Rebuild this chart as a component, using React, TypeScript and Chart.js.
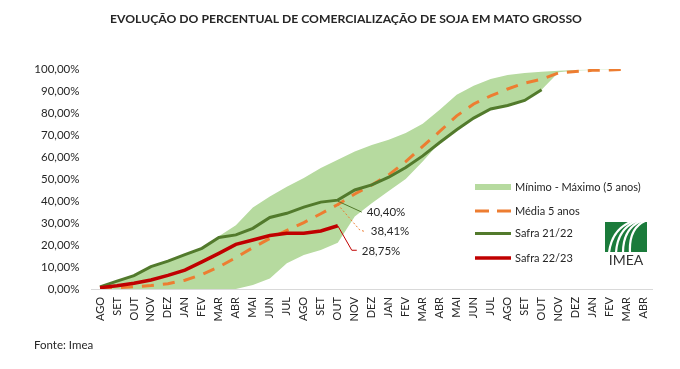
import React, { useEffect, useRef } from "react";
import { Chart, registerables } from "chart.js";

Chart.register(...registerables);

const categories = [
  "AGO", "SET", "OUT", "NOV", "DEZ", "JAN", "FEV", "MAR", "ABR", "MAI", "JUN", "JUL",
  "AGO", "SET", "OUT", "NOV", "DEZ", "JAN", "FEV", "MAR", "ABR", "MAI", "JUN", "JUL",
  "AGO", "SET", "OUT", "NOV", "DEZ", "JAN", "FEV", "MAR", "ABR",
];

const safra2223 = [0.6, 1.5, 2.6, 4.1, 6.2, 8.6, 12.3, 16.2, 20.3, 22.3, 24.3, 25.3, 25.3, 26.4, 28.75];

const safra2122 = [
  1.0, 3.6, 6.1, 10.2, 12.7, 15.6, 18.5, 23.4, 24.6, 27.6, 32.5, 34.4, 37.2, 39.5, 40.4,
  45.0, 47.3, 50.8, 55.2, 60.5, 66.6, 72.4, 77.7, 81.8, 83.4, 85.7, 90.6,
];

const media5 = [
  0.3, 0.6, 1.0, 1.6, 2.4, 4.0, 6.6, 10.0, 14.3, 18.8, 23.0, 26.6, 30.2, 34.2, 38.41,
  43.2, 47.3, 51.9, 57.9, 64.8, 71.6, 78.7, 84.1, 87.8, 90.9, 93.6, 95.4, 98.2, 98.9, 99.4, 99.6, 99.8,
];

const maximo5 = [
  1.0, 3.6, 6.1, 10.2, 12.7, 15.6, 18.5, 24.0, 29.0, 37.0, 42.0, 46.5, 50.5, 55.0, 58.7,
  62.5, 65.5, 67.8, 70.9, 75.1, 81.5, 88.3, 92.4, 95.4, 97.3, 98.2, 98.8, 99.2, 99.5, 99.7, 99.9,
];

const minimo5 = [
  0, 0, 0, 0, 0, 0, 0, 0, 0, 1.8, 4.8, 11.7, 15.5, 17.7, 21.0,
  33.0, 39.0, 44.5, 50.0, 58.0, 66.6, 72.4, 77.7, 81.8, 83.4, 85.7, 90.6, 98.5, 99.3, 99.6, 99.8,
];

const yTicks = [0, 10, 20, 30, 40, 50, 60, 70, 80, 90, 100];

const TITLE = "EVOLUÇÃO DO PERCENTUAL DE COMERCIALIZAÇÃO DE SOJA EM MATO GROSSO";
const SOURCE = "Fonte: Imea";
const legendItems = ["Mínimo - Máximo (5 anos)", "Média 5 anos", "Safra 21/22", "Safra 22/23"];

const C_BAND = "#b6da9f";
const C_GREEN = "#527a2c";
const C_RED = "#c00000";
const C_ORANGE = "#ed7d31";
const C_TEXT = "#262626";
const FONT = "Lato, 'Liberation Sans', sans-serif";

function pad(arr: number[]) {
  const out: (number | null)[] = arr.slice();
  while (out.length < categories.length) out.push(null);
  return out;
}

function fmt(v: number) {
  return v.toFixed(2).replace(".", ",") + "%";
}

const extrasPlugin = {
  id: "extras",
  afterDraw(chart: any) {
    const ctx = chart.ctx as CanvasRenderingContext2D;
    const xs = chart.scales.x;
    const ys = chart.scales.y;
    ctx.save();
    // title
    ctx.fillStyle = C_TEXT;
    ctx.font = `bold 12.2px ${FONT}`;
    ctx.textAlign = "center";
    ctx.textBaseline = "middle";
    ctx.fillText(TITLE, 346, 19);
    // source
    ctx.font = `11.5px ${FONT}`;
    ctx.textAlign = "left";
    ctx.fillText(SOURCE, 34, 345);

    // legend
    const lx0 = 475, lx1 = 511, tx = 515;
    ctx.fillStyle = C_BAND;
    ctx.fillRect(lx0, 184, lx1 - lx0, 6);
    ctx.lineWidth = 3;
    ctx.strokeStyle = C_ORANGE;
    ctx.setLineDash([14, 8]);
    ctx.beginPath(); ctx.moveTo(lx0, 211); ctx.lineTo(lx1, 211); ctx.stroke();
    ctx.setLineDash([]);
    ctx.strokeStyle = C_GREEN;
    ctx.beginPath(); ctx.moveTo(lx0, 233.5); ctx.lineTo(lx1, 233.5); ctx.stroke();
    ctx.strokeStyle = C_RED;
    ctx.lineWidth = 3.5;
    ctx.beginPath(); ctx.moveTo(lx0, 258); ctx.lineTo(lx1, 258); ctx.stroke();
    ctx.fillStyle = C_TEXT;
    ctx.font = `11px ${FONT}`;
    ctx.textBaseline = "middle";
    const ly = [187, 211, 233.5, 258];
    legendItems.forEach((t, i) => ctx.fillText(t, tx, ly[i]));

    // value labels at last Safra 22/23 point
    ctx.font = `11.5px ${FONT}`;
    const idx = safra2223.length - 1;
    const px = xs.getPixelForValue(idx);
    const gY = ys.getPixelForValue(safra2122[idx]);
    const oY = ys.getPixelForValue(media5[idx]);
    const rY = ys.getPixelForValue(safra2223[idx]);
    ctx.lineWidth = 1;
    // green
    ctx.strokeStyle = C_GREEN;
    ctx.beginPath(); ctx.moveTo(px, gY + 1); ctx.lineTo(px + 24, gY + 12); ctx.stroke();
    ctx.fillText(fmt(safra2122[idx]), px + 29, gY + 12);
    // orange
    ctx.strokeStyle = C_ORANGE;
    ctx.setLineDash([2, 2]);
    ctx.beginPath(); ctx.moveTo(px, oY); ctx.lineTo(px + 22, oY + 25.5); ctx.lineTo(px + 27, oY + 27); ctx.stroke();
    ctx.setLineDash([]);
    ctx.fillText(fmt(media5[idx]), px + 33, oY + 27);
    // red
    ctx.strokeStyle = C_RED;
    ctx.beginPath(); ctx.moveTo(px, rY); ctx.lineTo(px + 14, rY + 24.5); ctx.lineTo(px + 19, rY + 24.5); ctx.stroke();
    ctx.fillText(fmt(safra2223[idx]), px + 24, rY + 25.5);

    // IMEA logo
    const bx = 605, by = 222, bw = 42, bh = 30;
    ctx.fillStyle = "#1b7b3b";
    ctx.fillRect(bx, by, bw, bh);
    ctx.save();
    ctx.beginPath(); ctx.rect(bx, by, bw, bh); ctx.clip();
    ctx.strokeStyle = "#ffffff";
    ctx.lineWidth = 2.2;
    for (let i = 0; i < 4; i++) {
      ctx.beginPath();
      ctx.moveTo(bx + 4 + i * 7, by + bh + 1);
      ctx.bezierCurveTo(bx + 6 + i * 6, by + 14, bx + 14 + i * 5, by + 4, bx + 28 + i * 4, by - 1);
      ctx.stroke();
    }
    ctx.restore();
    ctx.fillStyle = "#333333";
    ctx.font = `14px ${FONT}`;
    ctx.textAlign = "center";
    ctx.textBaseline = "middle";
    ctx.fillText("IMEA", bx + bw / 2, 260);
    ctx.restore();
  },
};

export default function App() {
  const ref = useRef<HTMLCanvasElement | null>(null);
  useEffect(() => {
    document.body.style.margin = "0";
    const canvas = ref.current!;
    const chart = new Chart(canvas, {
      type: "line",
      data: {
        labels: categories,
        datasets: [
          {
            label: "Safra 22/23",
            data: pad(safra2223),
            borderColor: C_RED,
            borderWidth: 3.5,
            pointRadius: 0,
            tension: 0,
            fill: false,
          },
          {
            label: "Safra 21/22",
            data: pad(safra2122),
            borderColor: C_GREEN,
            borderWidth: 3,
            pointRadius: 0,
            tension: 0,
            fill: false,
          },
          {
            label: "Média 5 anos",
            data: pad(media5),
            borderColor: C_ORANGE,
            borderWidth: 3,
            borderDash: [12, 9],
            pointRadius: 0,
            tension: 0,
            fill: false,
          },
          {
            label: "Máximo",
            data: pad(maximo5),
            borderWidth: 0,
            borderColor: "rgba(0,0,0,0)",
            backgroundColor: C_BAND,
            pointRadius: 0,
            tension: 0,
            fill: "+1",
          },
          {
            label: "Mínimo",
            data: pad(minimo5),
            borderWidth: 0,
            borderColor: "rgba(0,0,0,0)",
            pointRadius: 0,
            tension: 0,
            fill: false,
          },
        ],
      },
      options: {
        responsive: false,
        devicePixelRatio: 1,
        animation: false,
        layout: { padding: { left: 0, right: 28, top: 69, bottom: 0 } },
        plugins: {
          legend: { display: false },
          title: { display: false },
          tooltip: { enabled: false },
        },
        scales: {
          x: {
            type: "category",
            offset: true,
            grid: { display: false, drawTicks: false },
            border: { display: true, color: "#d9d9d9", width: 1 },
            ticks: {
              autoSkip: false,
              minRotation: 90,
              maxRotation: 90,
              padding: 8,
              color: C_TEXT,
              font: { family: FONT, size: 11 },
            },
            afterFit: (axis: any) => {
              axis.height = 80;
            },
          },
          y: {
            min: 0,
            max: 100,
            grid: { display: false, drawTicks: false },
            border: { display: false },
            afterBuildTicks: (axis: any) => {
              axis.ticks = yTicks.map((v) => ({ value: v }));
            },
            ticks: {
              padding: 12,
              color: C_TEXT,
              font: { family: FONT, size: 11.5 },
              callback: (v: any) => fmt(Number(v)),
            },
            afterFit: (axis: any) => {
              axis.width = 91.5;
            },
          },
        },
      },
      plugins: [extrasPlugin],
    });
    return () => chart.destroy();
  }, []);
  return (
    <div style={{ width: 680, height: 369, position: "relative", background: "#fff" }}>
      <canvas ref={ref} width={680} height={369} style={{ width: 680, height: 369, display: "block" }} />
    </div>
  );
}
